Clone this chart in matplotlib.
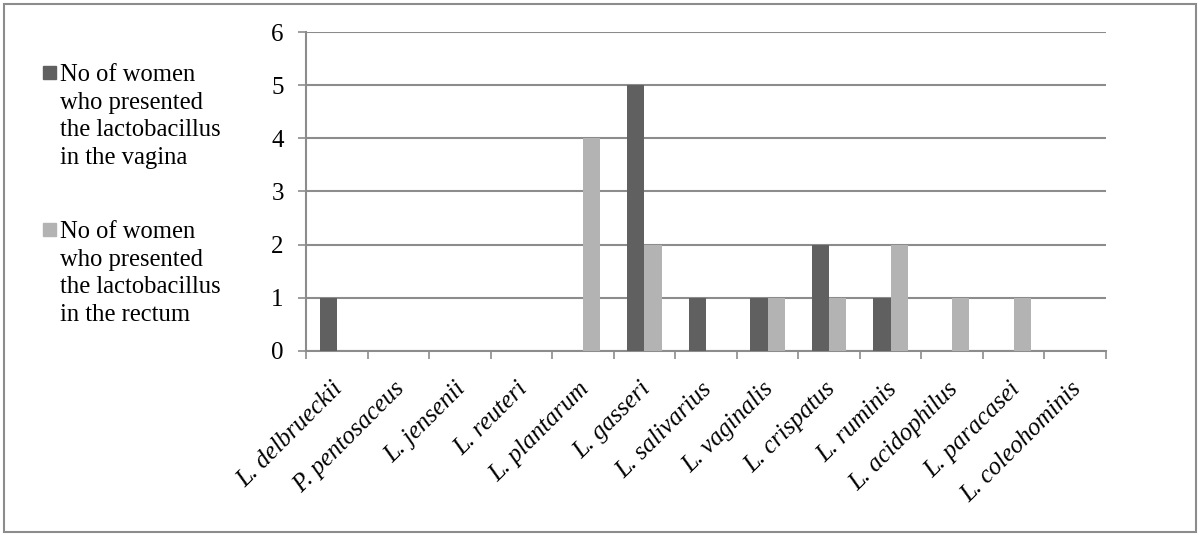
import matplotlib.pyplot as plt
import numpy as np
from matplotlib.patches import Rectangle

species = ['L. delbrueckii', 'P. pentosaceus', 'L. jensenii', 'L. reuteri',
           'L. plantarum', 'L. gasseri', 'L. salivarius', 'L. vaginalis',
           'L. crispatus', 'L. ruminis', 'L. acidophilus', 'L. paracasei',
           'L. coleohominis']
vagina = [1, 0, 0, 0, 0, 5, 1, 1, 2, 1, 0, 0, 0]
rectum = [0, 0, 0, 0, 4, 2, 0, 1, 1, 2, 1, 1, 0]
series_names = ['No of women\nwho presented\nthe lactobacillus\nin the vagina',
                'No of women\nwho presented\nthe lactobacillus\nin the rectum']
colors = ['#606060', '#b3b3b3']

plt.rcParams['font.family'] = 'Liberation Serif'
grid_c = '#8c8c8c'

fig = plt.figure(figsize=(12, 5.37), dpi=100)
ax = fig.add_axes([0.255, 0.3464, 0.6667, 0.594])

x = np.arange(len(species))
w = 0.28
ax.bar(x - w / 2, vagina, w, color=colors[0], zorder=3)
ax.bar(x + w / 2, rectum, w, color=colors[1], zorder=3)

ax.set_xlim(-0.5, len(species) - 0.5)
ax.set_ylim(0, 6)
ax.set_yticks(range(7))
ax.yaxis.grid(True, color=grid_c, lw=1.5, zorder=0)
ax.tick_params(axis='y', labelsize=18, length=6, width=1.2, color=grid_c, pad=10)

# Excel puts the category ticks between the groups
ax.set_xticks(np.arange(len(species) + 1) - 0.5)
ax.set_xticklabels([])
ax.tick_params(axis='x', length=6, width=1.2, color=grid_c)
for i, name in enumerate(species):
    ax.annotate(name, (i, 0), xycoords=('data', 'axes fraction'),
                xytext=(2, -25), textcoords='offset points',
                rotation=45, rotation_mode='anchor', ha='right', va='center',
                fontsize=18, style='italic')

for s in ['top', 'right']:
    ax.spines[s].set_visible(False)
for s in ['left', 'bottom']:
    ax.spines[s].set_color(grid_c)
    ax.spines[s].set_linewidth(1.5)

# Legend drawn by hand, Excel style
for k, (name, c) in enumerate(zip(series_names, colors)):
    ytop = 1 - (64 + k * 157) / 537
    fig.patches.append(Rectangle((43 / 1200, ytop - 15 / 537), 13 / 1200, 13 / 537,
                                 transform=fig.transFigure, color=c))
    fig.text(60 / 1200, ytop, name, fontsize=17.7, va='top', ha='left',
             linespacing=1.33)

fig.patches.append(Rectangle((4 / 1200, 5 / 537), 1192 / 1200, 528 / 537,
                             transform=fig.transFigure, fill=False,
                             edgecolor='#8c8c8c', lw=1.5))

fig.savefig('out.png')
